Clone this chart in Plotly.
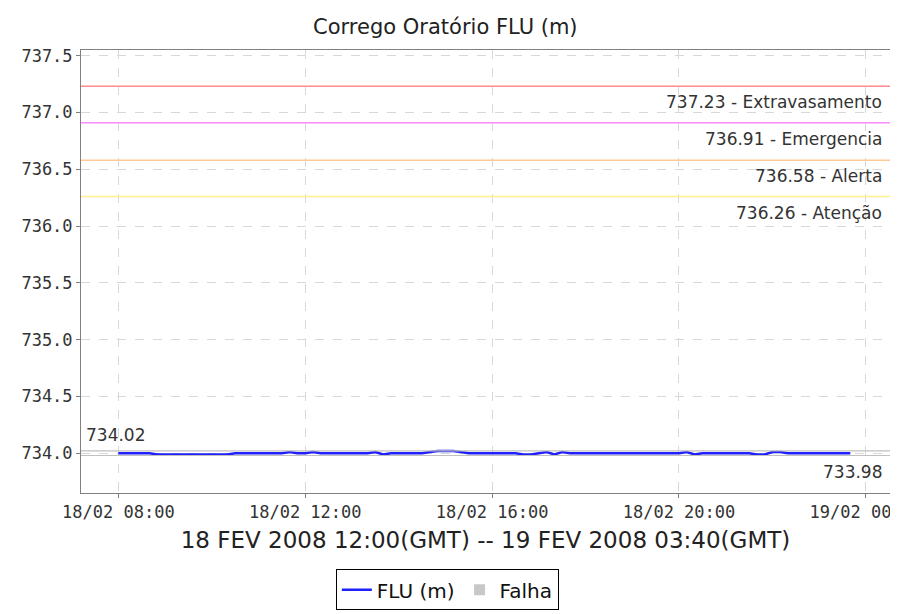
import pandas as pd
import plotly.graph_objects as go

## Series: FLU (m) level every 10 minutes, 18/02/2008 08:00 -> 23:40
flu_start = "2008-02-18 08:00"
flu_values = [
    734.00, 734.00, 734.00, 734.00, 734.00,                                  # 08:00-08:40
    733.99, 733.99, 733.99, 733.99, 733.99, 733.99, 733.99, 733.99, 733.99, 733.99,  # 08:50-10:20
    734.00, 734.00, 734.00, 734.00, 734.00, 734.00, 734.00,                  # 10:30-11:30
    734.01, 734.00, 734.00, 734.01,                                          # 11:40-12:10
    734.00, 734.00, 734.00, 734.00, 734.00, 734.00, 734.00,                  # 12:20-13:20
    734.01, 733.99, 734.00, 734.00, 734.00, 734.00, 734.00,                  # 13:30-14:30
    734.01, 734.02, 734.02, 734.02, 734.01,                                  # 14:40-15:20
    734.00, 734.00, 734.00, 734.00, 734.00, 734.00, 734.00,                  # 15:30-16:30
    733.99, 733.99, 734.00, 734.01, 733.99, 734.01,                          # 16:40-17:30
    734.00, 734.00, 734.00, 734.00, 734.00, 734.00, 734.00, 734.00,          # 17:40-18:50
    734.00, 734.00, 734.00, 734.00, 734.00, 734.00, 734.00,                  # 19:00-20:00
    734.01, 733.99,                                                          # 20:10-20:20
    734.00, 734.00, 734.00, 734.00, 734.00, 734.00, 734.00,                  # 20:30-21:30
    733.99, 733.99, 734.01, 734.01,                                          # 21:40-22:10
    734.00, 734.00, 734.00, 734.00, 734.00, 734.00, 734.00, 734.00, 734.00,  # 22:20-23:40
]
flu_times = pd.date_range(flu_start, periods=len(flu_values), freq="10min")

## Alert levels
level_values = [737.23, 736.91, 736.58, 736.26]
level_names = ["Extravasamento", "Emergencia", "Alerta", "Atenção"]
level_colors = ["#ff8c8c", "#ff8cff", "#ffc896", "#fff08c"]

## Max / min of the series
max_value = 734.02
min_value = 733.98

y_ticks = [734.0, 734.5, 735.0, 735.5, 736.0, 736.5, 737.0, 737.5]
x_ticks = pd.date_range("2008-02-18 08:00", "2008-02-19 00:00", freq="4h")

tick_font = dict(family="DejaVu Sans Mono", size=17, color="#333333")
label_font = dict(family="DejaVu Sans", size=17, color="#333333")

fig = go.Figure()

fig.add_trace(go.Scatter(x=flu_times, y=flu_values, mode="lines", name="FLU (m)",
                         line=dict(color="#1f1fff", width=2.5)))
fig.add_trace(go.Scatter(x=[None], y=[None], mode="markers", name="Falha",
                         marker=dict(symbol="square", color="#c8c8c8", size=11)))

for v, n, c in zip(level_values, level_names, level_colors):
    fig.add_hline(y=v, line=dict(color=c, width=1.5))
    fig.add_annotation(x=1, y=v, xref="paper", yref="y", xanchor="right", yanchor="top",
                       text=f"{v:.2f} - {n}", showarrow=False, xshift=-6, yshift=-4,
                       font=label_font)

fig.add_hline(y=max_value, line=dict(color="#c0c0c0", width=1.2))
fig.add_hline(y=min_value, line=dict(color="#c0c0c0", width=1.2))
fig.add_annotation(x=0, y=max_value, xref="paper", yref="y", xanchor="left", yanchor="bottom",
                   text=f"{max_value:.2f}", showarrow=False, xshift=3, yshift=4,
                   font=label_font)
fig.add_annotation(x=1, y=min_value, xref="paper", yref="y", xanchor="right", yanchor="top",
                   text=f"{min_value:.2f}", showarrow=False, xshift=-6, yshift=-4,
                   font=label_font)

fig.update_layout(
    width=898, height=614,
    margin=dict(l=73, r=16, t=42, b=119),
    paper_bgcolor="white", plot_bgcolor="white",
    title=dict(text="Corrego Oratório FLU (m)", x=0.487, xanchor="center", y=0.969, yanchor="middle",
               font=dict(family="DejaVu Sans", size=21, color="#222222")),
    showlegend=True,
    legend=dict(orientation="h", x=0.315, y=-0.172, xanchor="left", yanchor="top",
                bordercolor="#000000", borderwidth=1, bgcolor="white",
                font=dict(family="DejaVu Sans", size=20, color="#111111"),
                itemwidth=30, tracegroupgap=0),
)

fig.update_xaxes(range=["2008-02-18 07:12", "2008-02-19 00:31"],
                 tickvals=x_ticks, tickformat="%d/%m %H:%M", tickfont=tick_font,
                 ticks="outside", ticklen=4, tickcolor="#808080", ticklabeloverflow="allow",
                 showgrid=True, gridcolor="#d8d8d8", griddash="dash", gridwidth=1,
                 showline=True, linecolor="#808080", linewidth=1, mirror=True,
                 zeroline=False, automargin=False,
                 title=dict(text="18 FEV 2008 12:00(GMT) -- 19 FEV 2008 03:40(GMT)", standoff=10,
                            font=dict(family="DejaVu Sans", size=23, color="#222222")))
fig.update_yaxes(range=[733.65, 737.55], tickvals=y_ticks, tickformat=".1f", tickfont=tick_font,
                 ticks="outside", ticklen=4, tickcolor="#808080",
                 showgrid=True, gridcolor="#d8d8d8", griddash="dash", gridwidth=1,
                 showline=True, linecolor="#808080", linewidth=1, mirror=True,
                 zeroline=False, automargin=False)

fig.write_html("out.html")
